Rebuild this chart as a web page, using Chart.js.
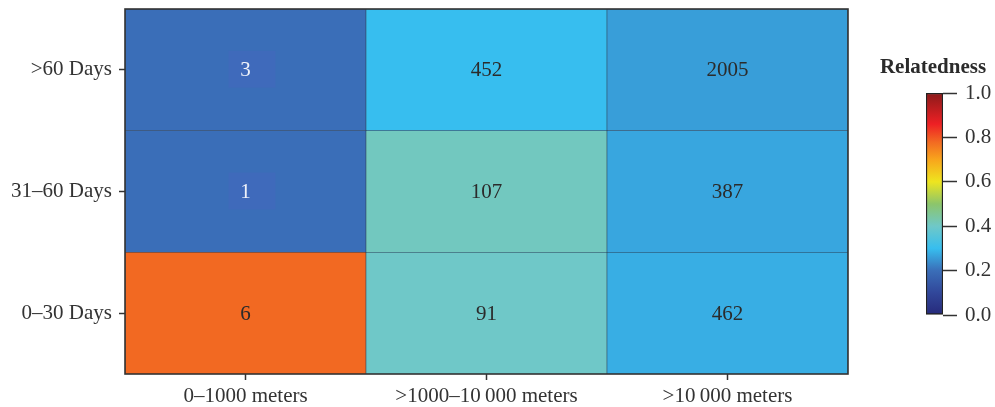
<!DOCTYPE html>
<html>
<head>
<meta charset="utf-8">
<script src="https://cdn.jsdelivr.net/npm/chart.js@4.4.1/dist/chart.umd.min.js"></script>
<style>
  html, body { margin: 0; padding: 0; background: #fff; }
  #wrap { position: relative; width: 995px; height: 407px; }
  #heat { position: absolute; left: 0; top: 0; }
  #bar { position: absolute; left: 860px; top: 0; }
</style>
</head>
<body>
<div id="wrap">
  <canvas id="heat" width="995" height="407"></canvas>
  <canvas id="bar" width="135" height="407"></canvas>
</div>
<script>
// Categories
const distanceBins = ['0\u20131000 meters', '>1000\u201310\u2009000 meters', '>10\u2009000 meters'];
const timeBins = ['0\u201330 Days', '31\u201360 Days', '>60 Days']; // bottom to top

// Number of pairs per cell (rows follow timeBins, columns follow distanceBins)
const pairCounts = [
    [6, 91, 462],
    [1, 107, 387],
    [3, 452, 2005]
];

// Mean relatedness per cell
const relatedness = [
    [0.78, 0.40, 0.28],
    [0.20, 0.41, 0.27],
    [0.20, 0.30, 0.26]
];

// Colour bar ticks
const colorbarTicks = [0.0, 0.2, 0.4, 0.6, 0.8, 1.0];

// Colour map stops (value, colour)
const colormapStops = [
    [0.00, '#26297a'],
    [0.10, '#31479a'],
    [0.20, '#3a6eb8'],
    [0.30, '#37beef'],
    [0.40, '#6fc8c8'],
    [0.50, '#8cc56b'],
    [0.60, '#eee51f'],
    [0.70, '#f8a51c'],
    [0.78, '#f26922'],
    [0.86, '#ee2024'],
    [1.00, '#8b1a1a']
];

const FONT = "'Liberation Serif', 'DejaVu Serif', serif";

function hexToRgb(h) {
    return [1, 3, 5].map(i => parseInt(h.slice(i, i + 2), 16));
}

function colorFor(v) {
    for (let i = 1; i < colormapStops.length; i++) {
        const [v1, c1] = colormapStops[i];
        const [v0, c0] = colormapStops[i - 1];
        if (v <= v1) {
            const t = (v - v0) / (v1 - v0);
            const a = hexToRgb(c0), b = hexToRgb(c1);
            const c = a.map((x, k) => Math.round(x + (b[k] - x) * t));
            return 'rgb(' + c.join(',') + ')';
        }
    }
    return colormapStops[colormapStops.length - 1][1];
}

// one stacked dataset per time bin, each cell has height 1
const datasets = timeBins.map((t, r) => ({
    label: t,
    data: distanceBins.map(() => 1),
    backgroundColor: relatedness[r].map(colorFor),
    borderColor: 'rgba(20,40,65,0.9)',
    borderWidth: 0.6,
    barPercentage: 1,
    categoryPercentage: 1
}));

// numbers in the cells + frame
const cellLabels = {
    id: 'cellLabels',
    afterDatasetsDraw(chart) {
        const ctx = chart.ctx;
        ctx.save();
        ctx.font = '21px ' + FONT;
        ctx.textAlign = 'center';
        ctx.textBaseline = 'middle';
        chart.data.datasets.forEach((ds, r) => {
            chart.getDatasetMeta(r).data.forEach((bar, c) => {
                const x = bar.x;
                const y = (bar.y + bar.base) / 2;
                const light = relatedness[r][c] < 0.22;
                if (light) {
                    ctx.fillStyle = 'rgba(80,95,195,0.25)';
                    ctx.fillRect(x - 17, y - 19, 47, 37);
                    ctx.fillStyle = '#eef2fa';
                } else {
                    ctx.fillStyle = '#2b2b2b';
                }
                ctx.fillText(String(pairCounts[r][c]), x, y + 1);
            });
        });
        const a = chart.chartArea;
        ctx.strokeStyle = '#333';
        ctx.lineWidth = 1.6;
        ctx.strokeRect(a.left, a.top, a.right - a.left, a.bottom - a.top);
        ctx.restore();
    }
};

new Chart(document.getElementById('heat').getContext('2d'), {
    type: 'bar',
    data: { labels: distanceBins, datasets: datasets },
    options: {
        responsive: false,
        animation: false,
        layout: { padding: { top: 9, right: 147, left: 0, bottom: 0 } },
        plugins: { legend: { display: false }, tooltip: { enabled: false } },
        scales: {
            x: {
                stacked: true,
                grid: { offset: false, drawOnChartArea: false, tickLength: 6, color: '#333', tickWidth: 1.5 },
                border: { display: false },
                ticks: { color: '#333', padding: 4, font: { family: FONT, size: 21 } },
                afterFit: s => { s.height = 33; }
            },
            y: {
                stacked: true,
                min: 0,
                max: 3,
                afterBuildTicks: s => { s.ticks = timeBins.map((t, i) => ({ value: i + 0.5 })); },
                grid: { drawOnChartArea: false, tickLength: 6, color: '#333', tickWidth: 1.5 },
                border: { display: false },
                ticks: {
                    color: '#333',
                    padding: 7,
                    font: { family: FONT, size: 21 },
                    callback: v => timeBins[Math.floor(v)]
                },
                afterFit: s => { s.width = 125; s.paddingTop = 0; s.paddingBottom = 0; }
            }
        }
    },
    plugins: [cellLabels]
});

// colour bar
const colorbarTitle = {
    id: 'colorbarTitle',
    afterDraw(chart) {
        const ctx = chart.ctx;
        ctx.save();
        ctx.font = 'bold 21px ' + FONT;
        ctx.fillStyle = '#2b2b2b';
        ctx.textAlign = 'center';
        ctx.textBaseline = 'middle';
        ctx.fillText('Relatedness', 73, 68);
        ctx.restore();
    }
};

new Chart(document.getElementById('bar').getContext('2d'), {
    type: 'bar',
    data: {
        labels: ['Relatedness'],
        datasets: [{
            data: [[colorbarTicks[0], colorbarTicks[colorbarTicks.length - 1]]],
            backgroundColor: ctx => {
                const area = ctx.chart.chartArea;
                if (!area) return '#888';
                const g = ctx.chart.ctx.createLinearGradient(0, area.bottom, 0, area.top);
                colormapStops.forEach(([v, c]) => g.addColorStop(v, c));
                return g;
            },
            borderColor: '#222',
            borderWidth: 1.5,
            borderSkipped: false,
            barPercentage: 1,
            categoryPercentage: 1
        }]
    },
    options: {
        responsive: false,
        animation: false,
        layout: { padding: { top: 93, bottom: 92, left: 66, right: 0 } },
        plugins: { legend: { display: false }, tooltip: { enabled: false } },
        scales: {
            x: { display: false },
            y: {
                position: 'right',
                min: 0,
                max: 1,
                afterBuildTicks: s => { s.ticks = colorbarTicks.map(v => ({ value: v })); },
                grid: { drawOnChartArea: false, tickLength: 14, color: '#333', tickWidth: 1.5 },
                border: { display: false },
                ticks: {
                    color: '#333',
                    padding: 8,
                    font: { family: FONT, size: 21 },
                    callback: v => v.toFixed(1)
                },
                afterFit: s => { s.width = 52; }
            }
        }
    },
    plugins: [colorbarTitle]
});
</script>
</body>
</html>
